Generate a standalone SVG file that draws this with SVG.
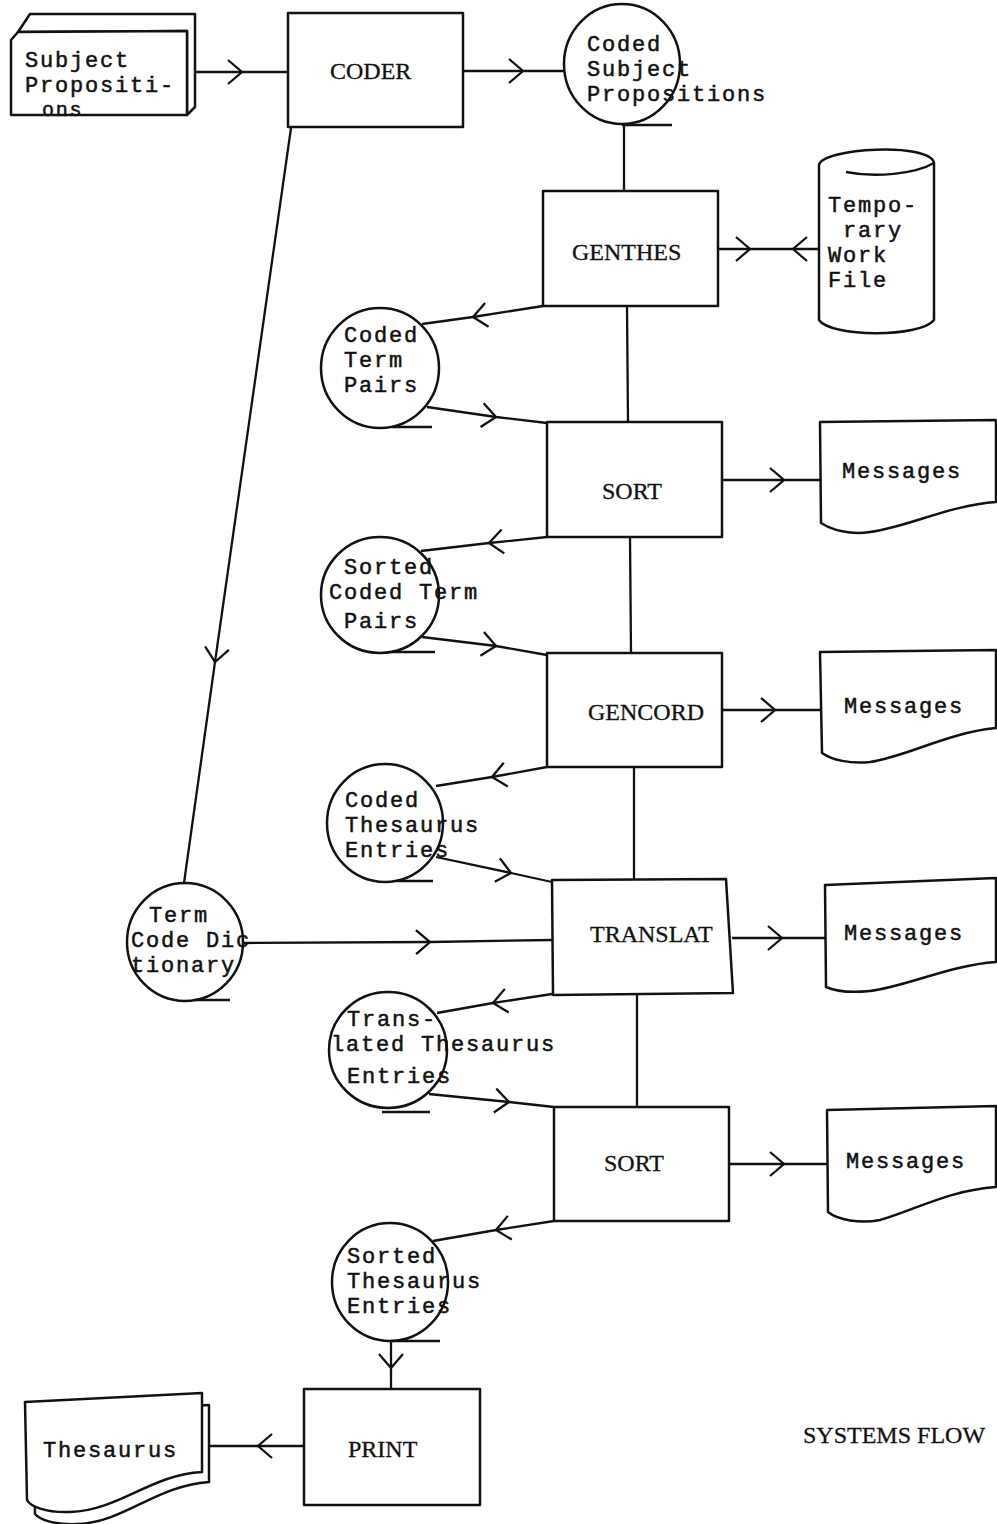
<svg xmlns="http://www.w3.org/2000/svg" width="997" height="1524" viewBox="0 0 997 1524">
<style>
.n { fill: #fff; stroke: #111; stroke-width: 2.5; stroke-linejoin: round; }
.s { fill: none; stroke: #111; stroke-width: 2.5; }
.c { fill: none; stroke: #111; stroke-width: 2.3; marker-mid: url(#chev); }
.l { fill: none; stroke: #111; stroke-width: 2.3; }
.t { font-family: "Liberation Mono", "Courier New", monospace; font-size: 22px; letter-spacing: 1.8px; fill: #111; stroke: #111; stroke-width: 0.5; }
.b { font-family: "Liberation Serif", "Times New Roman", serif; font-size: 24px; fill: #111; stroke: #111; stroke-width: 0.3; }
</style>
<defs>
<marker id="chev" markerUnits="userSpaceOnUse" viewBox="-16 -15 20 30" markerWidth="20" markerHeight="30" refX="0" refY="0" orient="auto" overflow="visible">
<path d="M -14 -12 L 0 0 L -14 12" fill="none" stroke="#111" stroke-width="2.3"/>
</marker>
</defs>
<rect width="997" height="1524" fill="#fff"/>

<g id="connectors">
<polyline class="c" points="187,72 242,72 288,72"/>
<polyline class="c" points="463,71 523,71 565,71"/>
<line class="l" x1="624" y1="124" x2="624" y2="191"/>
<polyline class="c" points="718,249 750,249 770,249"/>
<polyline class="c" points="819,249 793,249 770,249"/>
<polyline class="c" points="543,306 473,317 422,324"/>
<polyline class="c" points="427,407 496,417 547,423"/>
<line class="l" x1="627" y1="306" x2="628" y2="422"/>
<polyline class="c" points="722,480 784,480 820,480"/>
<polyline class="c" points="547,537 489,543 421,551"/>
<line class="l" x1="630" y1="537" x2="631" y2="653"/>
<polyline class="c" points="422,637 496,646 547,655"/>
<polyline class="c" points="722,710 775,710 820,710"/>
<polyline class="c" points="547,767 492,777 436,786"/>
<polyline class="c" points="436,857 511,873 552,882"/>
<line class="l" x1="634" y1="767" x2="634" y2="880"/>
<polyline class="c" points="243,943 430,942 552,940"/>
<polyline class="c" points="291,128 215,662 184,883"/>
<polyline class="c" points="732,938 782,938 825,938"/>
<polyline class="c" points="552,994 493,1003 437,1013"/>
<polyline class="c" points="429,1094 509,1102 554,1107"/>
<line class="l" x1="637" y1="994" x2="637" y2="1107"/>
<polyline class="c" points="729,1164 784,1164 827,1164"/>
<polyline class="c" points="554,1221 496,1230 433,1241"/>
<polyline class="c" points="391,1341 391,1368 391,1389"/>
<polyline class="c" points="304,1446 258,1446 210,1446"/>
</g>

<g id="subject-propositions">
<path class="n" d="M 18 32 L 30 14 L 195 14 L 195 107 L 187 115 L 187 31 Z"/>
<path class="n" d="M 11 40 L 18 32 L 187 31 L 187 115 L 11 115 Z"/>
<text class="t" x="25" y="67">Subject</text>
<text class="t" x="25" y="92">Propositi-</text>
<text class="t" x="42" y="116" style="font-size:20px">ons</text>
</g>

<g id="coder">
<rect class="n" x="288" y="13" width="175" height="114"/>
<text class="b" x="330" y="79">CODER</text>
</g>

<g id="coded-subject-propositions">
<ellipse class="n" cx="622" cy="64" rx="58" ry="60"/>
<line class="s" x1="622" y1="125" x2="672" y2="125"/>
<text class="t" x="587" y="51">Coded</text>
<text class="t" x="587" y="76">Subject</text>
<text class="t" x="587" y="101">Propositions</text>
</g>

<g id="genthes">
<rect class="n" x="543" y="191" width="175" height="115"/>
<text class="b" x="572" y="260">GENTHES</text>
</g>

<g id="temporary-work-file">
<path class="n" d="M 819 165 C 822 148, 930 142, 934 163 L 934 320 C 920 338, 830 337, 819 320 Z"/>
<path class="s" d="M 846 172 C 875 178, 915 174, 934 163"/>
<text class="t" x="828" y="212">Tempo-</text>
<text class="t" x="843" y="237">rary</text>
<text class="t" x="828" y="262">Work</text>
<text class="t" x="828" y="287">File</text>
</g>

<g id="coded-term-pairs">
<ellipse class="n" cx="380" cy="368" rx="59" ry="60"/>
<line class="s" x1="392" y1="427" x2="432" y2="427"/>
<text class="t" x="344" y="342">Coded</text>
<text class="t" x="344" y="367">Term</text>
<text class="t" x="344" y="392">Pairs</text>
</g>

<g id="sort-1">
<rect class="n" x="547" y="422" width="175" height="115"/>
<text class="b" x="602" y="499">SORT</text>
</g>

<g id="messages-1">
<path class="n" d="M 820 422 L 996 420 L 996 502 C 950 505, 905 528, 870 532 C 850 535, 832 530, 821 523 Z"/>
<text class="t" x="842" y="478">Messages</text>
</g>

<g id="sorted-coded-term-pairs">
<ellipse class="n" cx="380" cy="595" rx="59" ry="58"/>
<line class="s" x1="392" y1="652" x2="435" y2="652"/>
<text class="t" x="344" y="574">Sorted</text>
<text class="t" x="329" y="599">Coded Term</text>
<text class="t" x="344" y="628">Pairs</text>
</g>

<g id="gencord">
<rect class="n" x="547" y="653" width="175" height="114"/>
<text class="b" x="588" y="720">GENCORD</text>
</g>

<g id="messages-2">
<path class="n" d="M 820 652 L 996 650 L 996 728 C 950 732, 905 757, 870 762 C 850 764, 832 760, 822 753 Z"/>
<text class="t" x="844" y="713">Messages</text>
</g>

<g id="coded-thesaurus-entries">
<ellipse class="n" cx="385" cy="823" rx="58" ry="59"/>
<line class="s" x1="397" y1="881" x2="433" y2="881"/>
<text class="t" x="345" y="807">Coded</text>
<text class="t" x="345" y="832">Thesaurus</text>
<text class="t" x="345" y="857">Entries</text>
</g>

<g id="translat">
<path class="n" d="M 552 880 L 726 879 L 733 993 L 553 995 Z"/>
<text class="b" x="590" y="942">TRANSLAT</text>
</g>

<g id="messages-3">
<path class="n" d="M 825 885 L 996 878 L 996 962 C 950 965, 905 987, 870 991 C 850 993, 835 991, 826 987 Z"/>
<text class="t" x="844" y="940">Messages</text>
</g>

<g id="term-code-dictionary">
<ellipse class="n" cx="185" cy="942" rx="58" ry="59"/>
<line class="s" x1="195" y1="1000" x2="230" y2="1000"/>
<text class="t" x="149" y="922">Term</text>
<text class="t" x="131" y="947">Code Dic</text>
<text class="t" x="131" y="972">tionary</text>
</g>

<g id="translated-thesaurus-entries">
<ellipse class="n" cx="388" cy="1050" rx="59" ry="58"/>
<line class="s" x1="382" y1="1112" x2="430" y2="1112"/>
<text class="t" x="347" y="1026">Trans-</text>
<text class="t" x="331" y="1051">lated Thesaurus</text>
<text class="t" x="347" y="1083">Entries</text>
</g>

<g id="sort-2">
<rect class="n" x="554" y="1107" width="175" height="114"/>
<text class="b" x="604" y="1171">SORT</text>
</g>

<g id="messages-4">
<path class="n" d="M 827 1110 L 996 1106 L 996 1187 C 950 1190, 915 1210, 880 1220 C 860 1224, 838 1220, 828 1212 Z"/>
<text class="t" x="846" y="1168">Messages</text>
</g>

<g id="sorted-thesaurus-entries">
<ellipse class="n" cx="390" cy="1282" rx="58" ry="59"/>
<line class="s" x1="391" y1="1341" x2="440" y2="1341"/>
<text class="t" x="347" y="1263">Sorted</text>
<text class="t" x="347" y="1288">Thesaurus</text>
<text class="t" x="347" y="1313">Entries</text>
</g>

<g id="print">
<rect class="n" x="304" y="1389" width="176" height="116"/>
<text class="b" x="348" y="1457">PRINT</text>
</g>

<g id="thesaurus">
<path class="n" d="M 33 1414 L 209 1405 L 209 1482 C 155 1486, 125 1522, 78 1524 C 55 1525, 40 1520, 35 1514 Z"/>
<path class="n" d="M 25 1402 L 202 1393 L 202 1472 C 150 1475, 120 1510, 70 1512 C 45 1513, 30 1506, 27 1500 Z"/>
<text class="t" x="43" y="1457">Thesaurus</text>
</g>

<g id="title">
<text class="b" x="803" y="1443">SYSTEMS FLOW</text>
</g>
</svg>
